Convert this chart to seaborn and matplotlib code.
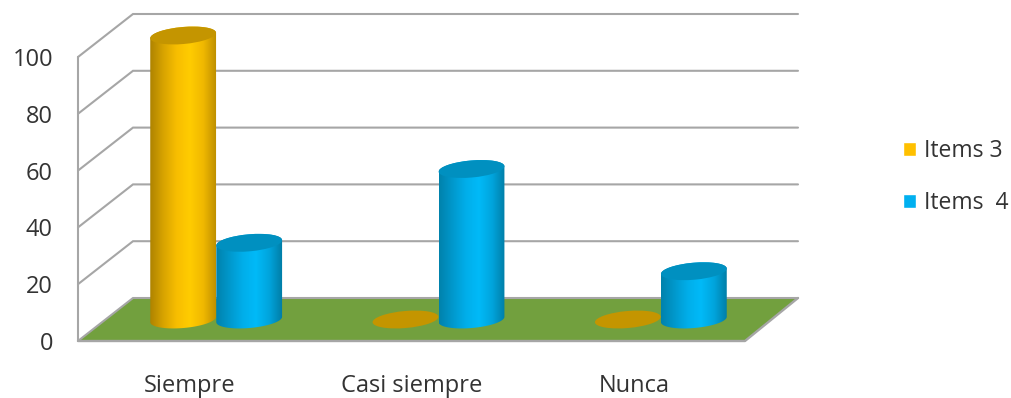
import numpy as np
import pandas as pd
import matplotlib
matplotlib.use("Agg")
import matplotlib.pyplot as plt
import seaborn as sns
from matplotlib.colors import LinearSegmentedColormap
from matplotlib.patches import Ellipse, Polygon
from matplotlib.path import Path
from matplotlib.transforms import IdentityTransform

categories = ["Siempre", "Casi siempre", "Nunca"]
items3 = [100, 0, 0]
items4 = [27, 53, 17]
series_names = ["Items 3", "Items  4"]
y_ticks = [0, 20, 40, 60, 80, 100]

sns.set_theme(style="white")
plt.rcParams["font.family"] = ["Open Sans", "DejaVu Sans"]

W, H = 1011, 398
FS = 17
TXT = "#333333"
GRID = "#a6a6a6"
COL = {"gold": "#FFC000", "blue": "#00B0F0"}
TOP = {"gold": "#C49500", "blue": "#0090C0"}
GRAD = {
    "gold": ["#AE8300", "#D8A400", "#F8BE00", "#FFCC00", "#F0B800", "#BC8E00"],
    "blue": ["#0082AC", "#0098CC", "#00AEEA", "#00BAF8", "#00A4DC", "#007CA4"],
}

fig = plt.figure(figsize=(W / 100, H / 100), dpi=100)
fig.patch.set_facecolor("white")


def axrect(left, bottom_px, width, height):
    return [left / W, (H - bottom_px) / H, width / W, height / H]


# front plane of the 3D box carries the scales and the tick labels
ax = fig.add_axes(axrect(78, 341, 667, 284))
ax.set_xlim(-0.5, 2.5)
ax.set_ylim(0, 100)
ax.set_xticks(range(len(categories)), categories)
ax.set_yticks(y_ticks)
ax.tick_params(axis="x", length=0, pad=23.5, labelsize=FS, labelcolor=TXT)
ax.tick_params(axis="y", length=0, pad=18, labelsize=FS, labelcolor=TXT)
sns.despine(ax=ax, left=True, bottom=True, top=True, right=True)
ax.patch.set_alpha(0)

DXL, DXR, DY = 55, 53, 43  # depth of the box in pixels
fl, fb = ax.transData.transform((-0.5, 0))
fr, _ = ax.transData.transform((2.5, 0))
id_t = IdentityTransform()
ax.add_patch(Polygon([(fl, fb), (fr, fb), (fr + DXR, fb + DY), (fl + DXL, fb + DY)],
                     closed=True, fc="#72A03E", ec="none", transform=id_t,
                     clip_on=False, zorder=1))
for v in y_ticks:
    _, py = ax.transData.transform((0, v))
    ax.plot([fl, fl + DXL, fr + DXR], [py, py + DY, py + DY], color=GRID, lw=1.5,
            transform=id_t, clip_on=False, zorder=2 if v else 1.5,
            solid_joinstyle="miter")
ax.plot([fl, fl], [fb, fb + 284], color=GRID, lw=1.5, transform=id_t, clip_on=False, zorder=2)
ax.plot([fl, fr, fr + DXR], [fb, fb, fb + DY], color=GRID, lw=1.7, transform=id_t,
        clip_on=False, zorder=2)

# bars stand in the middle of the floor
ax2 = fig.add_axes(axrect(78 + 27, 341 - DY / 2, 667, 284))
df = pd.DataFrame({
    "cat": categories * 2,
    "val": items3 + items4,
    "serie": [series_names[0]] * 3 + [series_names[1]] * 3,
})
sns.barplot(data=df, x="cat", y="val", hue="serie", hue_order=series_names,
            palette=[COL["gold"], COL["blue"]], width=0.594, gap=0, ax=ax2,
            saturation=1)
ax2.set_xlim(-0.5, 2.5)
ax2.set_ylim(0, 100)
ax2.axis("off")
ax2.patch.set_alpha(0)

A_H, ANG = 17.0, 5.0
phi = np.deg2rad(ANG)


def ell_pts(cx, cy, a, b, t):
    return np.column_stack([
        cx + a * np.cos(t) * np.cos(phi) - b * np.sin(t) * np.sin(phi),
        cy + a * np.cos(t) * np.sin(phi) + b * np.sin(t) * np.cos(phi),
    ])


for keys, cont in zip(["gold", "blue"], ax2.containers):
    cmap = LinearSegmentedColormap.from_list(keys, GRAD[keys])
    grad = np.linspace(0, 1, 128).reshape(1, -1)
    for bar in cont:
        x0, w, h = bar.get_x(), bar.get_width(), bar.get_height()
        bar.set_alpha(0)  # the cylinder below replaces the flat rectangle
        bar.set_edgecolor("none")
        (px0, py0), (px1, py1) = ax2.transData.transform([(x0, 0), (x0 + w, h)])
        cx, a, b = (px0 + px1) / 2, (px1 - px0) / 2, A_H / 2
        if h > 0:
            t0 = np.arctan2(-b * np.sin(phi), a * np.cos(phi))
            # left extreme -> right extreme along the top, then back under the base
            upper = ell_pts(cx, py1, a, b, np.linspace(np.pi + t0, t0, 40))
            lower = ell_pts(cx, py0, a, b, np.linspace(t0, -np.pi + t0, 40))
            verts = np.vstack([upper, lower, upper[:1]])
            im = ax2.imshow(grad, extent=(x0, x0 + w, -12, h + 5), aspect="auto",
                            cmap=cmap, zorder=3, interpolation="bilinear")
            im.set_clip_box(fig.bbox)
            im.set_clip_path(Path(verts, closed=True), id_t)
        ax2.add_patch(Ellipse((cx, py1), 2 * a, A_H, angle=ANG, fc=TOP[keys], ec="none",
                              transform=id_t, clip_on=False, zorder=3.5 if h > 0 else 2))
ax2.set_xlim(-0.5, 2.5)
ax2.set_ylim(0, 100)

# legend built from the seaborn bar handles
old = ax2.get_legend()
handles = old.legend_handles
leg = ax2.legend(handles, series_names, loc="center left",
                 bbox_to_anchor=(882 / W, 1 - 177 / H), bbox_transform=fig.transFigure,
                 frameon=False, fontsize=16.5, labelcolor=TXT, handlelength=0.6,
                 handleheight=0.6, handletextpad=0.35, labelspacing=1.22)
for hd in leg.legend_handles:
    hd.set_alpha(1)

fig.savefig("out.png", dpi=100, facecolor="white")
